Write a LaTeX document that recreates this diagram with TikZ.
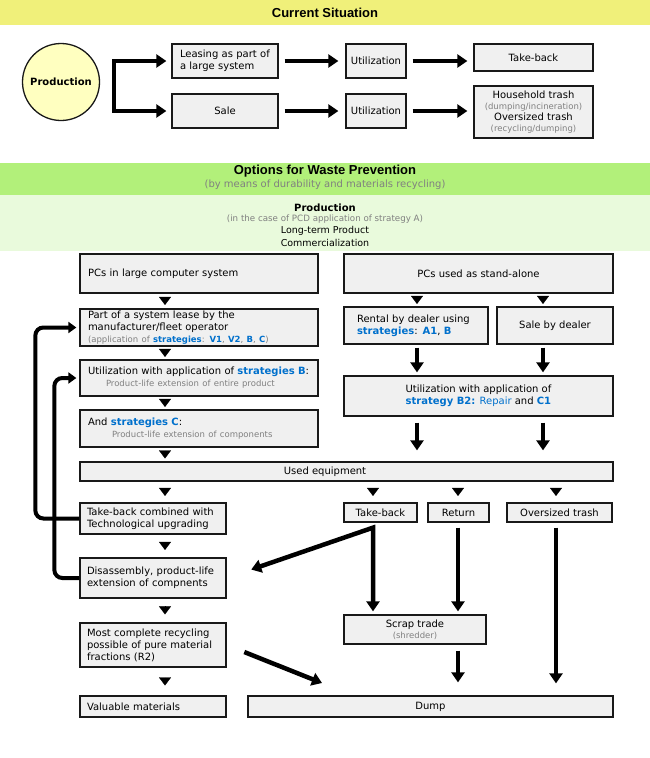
\documentclass[tikz,border=0pt]{standalone}
\usepackage{fontspec}
\setmainfont{DejaVu Sans}
\newfontfamily\hdfont{Liberation Sans}
\usetikzlibrary{arrows.meta,calc}
\definecolor{bandY}{RGB}{240,240,122}
\definecolor{bandG}{RGB}{178,240,122}
\definecolor{bandLG}{RGB}{233,250,220}
\definecolor{boxfill}{RGB}{240,240,240}
\definecolor{prodfill}{RGB}{255,255,192}
\definecolor{txtgray}{RGB}{128,128,128}
\definecolor{stratblue}{RGB}{0,112,204}
\definecolor{edge}{RGB}{25,25,25}
\newcommand{\stb}[1]{{\color{stratblue}\bfseries #1}}
\newcommand{\grt}[1]{{\color{txtgray}#1}}
\newcommand{\smf}{\fontsize{8.5}{10}\selectfont}
\begin{document}
\begin{tikzpicture}[x=1pt,y=-1pt,
  font=\fontsize{10}{12}\selectfont,
  box/.style={draw=edge, line width=1.3pt, fill=boxfill, inner xsep=8pt, inner ysep=0pt, align=left},
  cbox/.style={box, align=center},
  big/.style={line width=4.5pt, -{Triangle[length=10pt,width=13pt]}},
  bigboth/.style={line width=4.5pt, {Triangle[length=10pt,width=13pt]}-{Triangle[length=10pt,width=13pt]}},
  loopar/.style={line width=4pt, -{Triangle[length=8pt,width=11pt]}, rounded corners=8pt},
  tri/.style={line width=0.2pt, -{Triangle[length=8pt,width=12pt]}, shorten <=#1, shorten >=#1},
  hdr/.style={font=\hdfont\bfseries\fontsize{13}{15}\selectfont},
]
\useasboundingbox (0,0) rectangle (650,758);
\fill[white] (0,0) rectangle (650,758);

% ---------- Current situation ----------
\fill[bandY] (0,0) rectangle (650,25);
\node[hdr] (t1) at (325,12.5) {Current Situation};

\node[circle, draw=edge, line width=1.3pt, fill=prodfill, minimum size=77pt, inner sep=0pt, font=\bfseries] (prod) at (61,82) {Production};

\node[box, minimum width=106pt, minimum height=34pt, text width=90pt] (lease) at (225,61) {Leasing as part of\\a large system};
\node[cbox, minimum width=106pt, minimum height=34pt] (sale) at (225,111) {Sale};
\node[cbox, inner xsep=2pt, minimum width=60pt, minimum height=34pt] (util1) at (376,61) {Utilization};
\node[cbox, inner xsep=2pt, minimum width=60pt, minimum height=34pt] (util2) at (376,111) {Utilization};
\node[cbox, minimum width=119pt, minimum height=27pt] (tb0) at (533.5,57.5) {Take-back};
\node[cbox, minimum width=119pt, minimum height=52pt, font=\fontsize{10}{11}\selectfont] (trash) at (533.5,112)
  {Household trash\\{\grt{\smf (dumping/incineration)}}\\Oversized trash\\{\grt{\smf (recycling/dumping)}}};

\draw[big, shorten >=5pt] ($(prod.east)+(14,0)$) |- (lease.west);
\draw[big, shorten >=5pt] ($(prod.east)+(14,0)$) |- (sale.west);
\draw[big, shorten <=6pt, shorten >=7pt] (lease.east) -- (util1.west);
\draw[big, shorten <=6pt, shorten >=7pt] (sale.east) -- (util2.west);
\draw[big, shorten <=6pt, shorten >=6pt] (util1.east) -- (util1.east -| tb0.west);
\draw[big, shorten <=6pt, shorten >=6pt] (util2.east) -- (util2.east -| trash.west);

% ---------- Options ----------
\fill[bandG] (0,163) rectangle (650,195);
\fill[bandLG] (0,195) rectangle (650,251);
\node[hdr] (t2) at (325,171) {Options for Waste Prevention};
\node[font=\fontsize{10}{11}\selectfont, text=txtgray] (t2s) at (325,184.5) {(by means of durability and materials recycling)};
\node[font=\bfseries] (t3) at (325,208) {Production};
\node[font=\fontsize{8.7}{10}\selectfont, text=txtgray] (t3s) at (325,219) {(in the case of PCD application of strategy A)};
\node[font=\fontsize{9.5}{11}\selectfont] (t3a) at (325,231) {Long-term Product};
\node[font=\fontsize{9.5}{11}\selectfont] (t3b) at (325,243) {Commercialization};

% column coordinates
\coordinate (cL) at (165,0);
\coordinate (cR1) at (417,0);
\coordinate (cR2) at (543,0);
\coordinate (cT) at (373,0);
\coordinate (cRt) at (458,0);
\coordinate (cO) at (556,0);

% left column
\node[box, minimum width=238pt, minimum height=39pt, text width=222pt] (pcl) at (199,273.5) {PCs in large computer system};
\node[box, minimum width=238pt, minimum height=37pt, text width=222pt] (lsys) at (199,327.5)
  {Part of a system lease by the\\manufacturer/fleet operator\\{\smf\grt{(application of \stb{strategies}: \stb{V1}, \stb{V2}, \stb{B}, \stb{C})}}};
\node[box, minimum width=238pt, minimum height=36pt, text width=222pt] (utilB) at (199,378)
  {\mbox{Utilization with application of \stb{strategies B}:}\\\hspace*{18pt}{\smf\grt{Product-life extension of entire product}}};
\node[box, minimum width=238pt, minimum height=37pt, text width=222pt] (stratC) at (199,428.5)
  {And \stb{strategies C}:\\\hspace*{24pt}{\smf\grt{Product-life extension of components}}};

% right column
\node[cbox, minimum width=269pt, minimum height=39pt] (pcs) at (478.5,273.5) {PCs used as stand-alone};
\node[box, inner xsep=13pt, minimum width=144pt, minimum height=37pt, text width=118pt] (rental) at (416,325.5)
  {Rental by dealer using\\\stb{strategies}: \stb{A1}, \stb{B}};
\node[cbox, minimum width=116pt, minimum height=37pt] (salebd) at (555,325.5) {Sale by dealer};
\node[box, minimum width=269pt, minimum height=40pt] (utilB2) at (478.5,396)
  {Utilization with application of\\\stb{strategy B2:} {\color{stratblue}Repair} and \stb{C1}};

\node[box, minimum width=533pt, minimum height=19pt, label={[xshift=-21.5pt]center:Used equipment}] (used) at (346.5,471.5) {};

% lower left
\node[box, inner xsep=7pt, minimum width=146pt, minimum height=31pt, text width=132pt] (tbc) at (153,518.5)
  {Take-back combined with\\Technological upgrading};
\node[box, inner xsep=7pt, minimum width=146pt, minimum height=40pt, text width=132pt] (disas) at (153,578)
  {Disassembly, product-life\\extension of compnents};
\node[box, inner xsep=7pt, minimum width=146pt, minimum height=44pt, text width=132pt] (most) at (153,645)
  {Most complete recycling\\possible of pure material\\fractions (R2)};
\node[box, inner xsep=7pt, minimum width=146pt, minimum height=21pt, text width=132pt] (val) at (153,706.5) {Valuable materials};

% lower right
\node[cbox, minimum width=73pt, minimum height=19pt] (tb) at (380.5,512.5) {Take-back};
\node[cbox, minimum width=61pt, minimum height=19pt] (ret) at (458.5,512.5) {Return};
\node[cbox, minimum width=105pt, minimum height=19pt] (ovs) at (559.5,512.5) {Oversized trash};
\node[cbox, minimum width=142pt, minimum height=29pt, font=\fontsize{10}{11}\selectfont] (scrap) at (415,629.5)
  {Scrap trade\\{\smf\grt{(shredder)}}};
\node[cbox, minimum width=365pt, minimum height=21pt] (dump) at (430.5,706.5) {Dump};

% small triangles
\draw[tri=3.4pt] (pcl.south -| cL) -- (lsys.north -| cL);
\draw[tri=2.4pt] (lsys.south -| cL) -- (utilB.north -| cL);
\draw[tri=2.4pt] (utilB.south -| cL) -- (stratC.north -| cL);
\draw[tri=2.9pt] (stratC.south -| cL) -- (used.north -| cL);
\draw[tri=2.4pt] (pcs.south -| cR1) -- (rental.north -| cR1);
\draw[tri=2.4pt] (pcs.south -| cR2) -- (salebd.north -| cR2);
\draw[tri=6.4pt] (used.south -| cL) -- (tbc.north -| cL);
\draw[tri=7.4pt] (tbc.south -| cL) -- (disas.north -| cL);
\draw[tri=8pt] (disas.south -| cL) -- (most.north -| cL);
\draw[tri=9.9pt] (most.south -| cL) -- (val.north -| cL);
\draw[tri=6.4pt] (used.south -| cT) -- (tb.north -| cT);
\draw[tri=6.4pt] (used.south -| cRt) -- (ret.north -| cRt);
\draw[tri=6.4pt] (used.south -| cO) -- (ovs.north -| cO);

% thick arrows right column
\draw[big, shorten <=3pt, shorten >=3pt] (rental.south -| cR1) -- (utilB2.north -| cR1);
\draw[big, shorten <=3pt, shorten >=3pt] (salebd.south -| cR2) -- (utilB2.north -| cR2);
\draw[big, shorten <=6pt, shorten >=11pt] (utilB2.south -| cR1) -- (used.north -| cR1);
\draw[big, shorten <=6pt, shorten >=11pt] (utilB2.south -| cR2) -- (used.north -| cR2);

% lower connectors
\coordinate (tbj) at ($(tb.south -| cT)+(0,5)$);
\draw[bigboth, shorten <=26pt, shorten >=3pt] (disas.east) -- (tbj) -- (scrap.north -| cT);
\draw[big, shorten <=5pt, shorten >=3pt] (ret.south -| cRt) -- (scrap.north -| cRt);
\draw[big, shorten <=6pt, shorten >=13pt] (scrap.south -| cRt) -- (dump.north -| cRt);
\draw[big, shorten <=5pt, shorten >=12pt] (ovs.south -| cO) -- (dump.north -| cO);
\coordinate (dtip) at (322,683);
\draw[big, shorten <=19pt] (most.east) -- (dtip);

% feedback loops
\draw[loopar, shorten >=3pt] (tbc.west) -- ++(-44,0) |- (lsys.west);
\draw[loopar, shorten >=3pt] (disas.west) -- ++(-25,0) |- (utilB.west);
\end{tikzpicture}
\end{document}
